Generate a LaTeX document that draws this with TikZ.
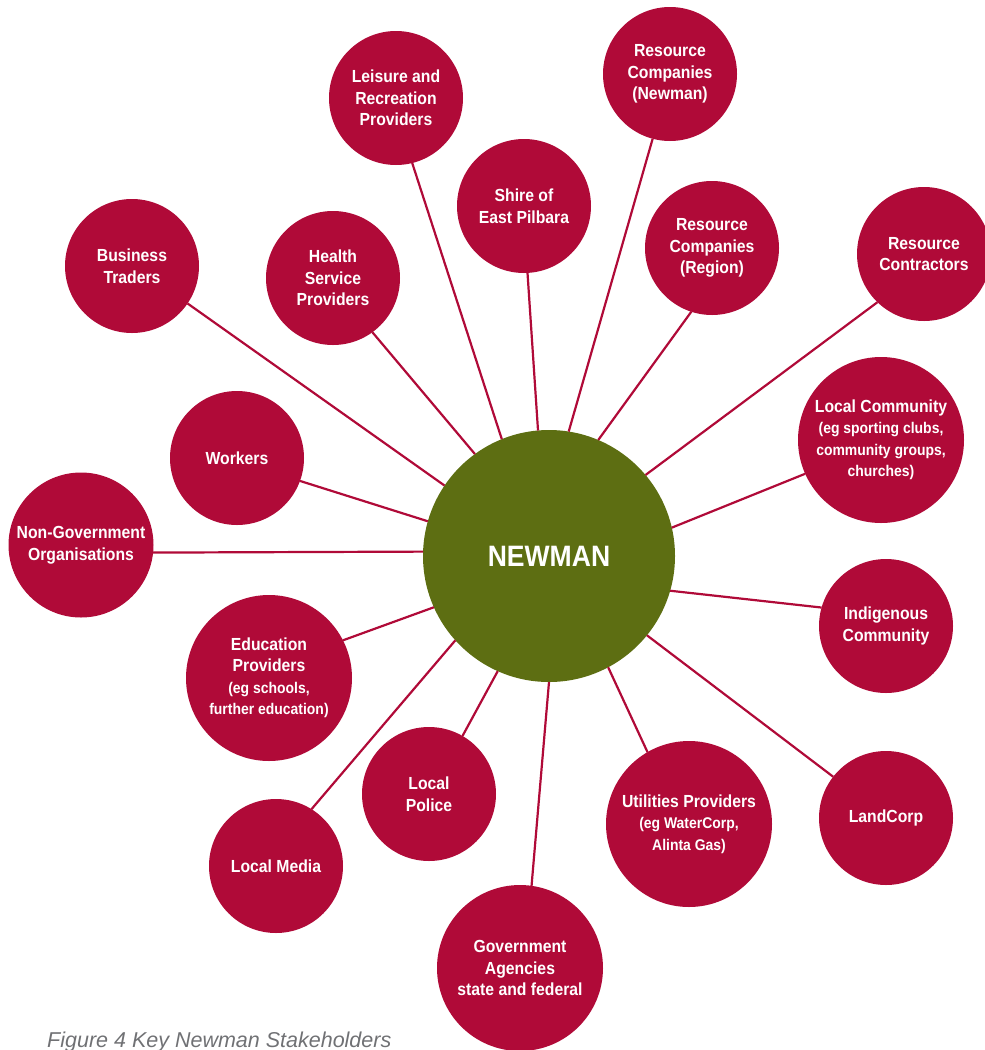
\documentclass[tikz,border=0pt]{standalone}
\usepackage{fontspec}
\newfontfamily\labfont{Liberation Sans}[FakeStretch=0.9]
\newfontfamily\capfont{Liberation Sans}
\definecolor{stakered}{HTML}{B00A38}
\definecolor{hubgreen}{HTML}{5D6E12}
\definecolor{capgray}{HTML}{707174}
\newcommand{\sm}{\fontsize{15.5}{21.5}\selectfont}
\begin{document}
\begin{tikzpicture}[x=1pt,y=-1pt,
  stake/.style={circle, fill=stakered, text=white, inner sep=0pt, outer sep=0pt,
    minimum size=134pt, align=center,
    font=\labfont\bfseries\fontsize{17.5}{21.5}\selectfont},
  bigstake/.style={stake, minimum size=166pt},
  hub/.style={circle, fill=hubgreen, text=white, inner sep=0pt, outer sep=0pt,
    minimum size=252pt, font=\labfont\bfseries\fontsize{29.5}{32}\selectfont},
  link/.style={draw=stakered, line width=2.2pt}]
\useasboundingbox (0,0) rectangle (985,1050);
\clip (0,0) rectangle (985,1050);

% hub
\node[hub] (newman) at (549,556) {NEWMAN};

% stakeholders
\node[stake] (bt) at (132,266) {Business\\Traders};
\node[stake] (lr) at (396,98) {Leisure and\\Recreation\\Providers};
\node[stake] (hs) at (333,278) {Health\\Service\\Providers};
\node[stake] (sh) at (524,206) {Shire of\\East Pilbara};
\node[stake] (rn) at (670,74) {Resource\\Companies\\(Newman)};
\node[stake] (rr) at (712,248) {Resource\\Companies\\(Region)};
\node[stake] (rc) at (924,254) {Resource\\Contractors};
\node[stake] (wk) at (237,458) {Workers};
\node[stake, minimum size=145pt] (ng) at (81,545) {Non-Government\\Organisations};
\node[bigstake] (ed) at (269,678)
  {Education\\Providers\\\sm (eg schools,\\\sm further education)};
\node[bigstake] (lc) at (881,440)
  {Local Community\\\sm (eg sporting clubs,\\\sm community groups,\\\sm churches)};
\node[stake] (ic) at (886,626) {Indigenous\\Community};
\node[stake] (lp) at (429,794) {Local\\Police};
\node[stake] (lm) at (276,866) {Local Media};
\node[bigstake] (ga) at (520,968) {Government\\Agencies\\state and federal};
\node[bigstake] (up) at (689,824)
  {Utilities Providers\\\sm (eg WaterCorp,\\\sm Alinta Gas)};
\node[stake] (lcorp) at (886,818) {LandCorp};

% connectors
\draw[link] (newman.146) -- (bt.-34);
\draw[link] (newman.126) -- (hs.-54);
\draw[link] (newman.112) -- (lr.-76);
\draw[link] (newman.95) -- (sh.-87);
\draw[link] (newman.81) -- (rn.-105);
\draw[link] (newman.67) -- (rr.-108);
\draw[link] (newman.40) -- (rc.-134);
\draw[link] (newman.13) -- (lc.-156);
\draw[link] (newman.-16) -- (ic.164);
\draw[link] (newman.-39) -- (lcorp.142);
\draw[link] (newman.-62) -- (up.120);
\draw[link] (newman.-90) -- (ga.82);
\draw[link] (newman.-114) -- (lp.60);
\draw[link] (newman.-138) -- (lm.58);
\draw[link] (newman.-156) -- (ed.27);
\draw[link] (newman.178) -- (ng.-6);
\draw[link] (newman.164) -- (wk.-20);

% caption
\node[anchor=base west, inner sep=0pt, text=capgray,
  font=\capfont\itshape\fontsize{21.5}{24}\selectfont] (cap) at (47,1047)
  {Figure 4 Key Newman Stakeholders};
\end{tikzpicture}
\end{document}
